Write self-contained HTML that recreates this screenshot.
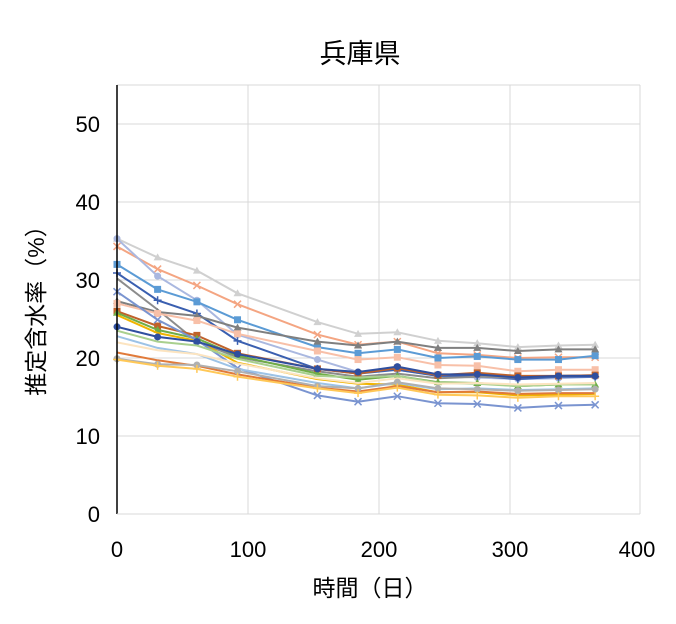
<!DOCTYPE html>
<html><head><meta charset="utf-8"><style>
html,body{margin:0;padding:0;background:#fff;width:676px;height:624px;overflow:hidden}
text{font-family:"Liberation Sans","Noto Sans CJK JP",sans-serif;fill:#000}
</style></head><body>
<svg id="s" width="676" height="624" xmlns="http://www.w3.org/2000/svg">
<rect width="676" height="624" fill="#fff"/>
<text x="360" y="63" font-size="27" text-anchor="middle">兵庫県</text>
<g stroke="#d9d9d9" stroke-width="1">
<line x1="117" y1="124" x2="640" y2="124"/><line x1="117" y1="202" x2="640" y2="202"/>
<line x1="117" y1="280" x2="640" y2="280"/><line x1="117" y1="358" x2="640" y2="358"/>
<line x1="117" y1="436" x2="640" y2="436"/>
<line x1="248" y1="85" x2="248" y2="514"/><line x1="379" y1="85" x2="379" y2="514"/>
<line x1="510" y1="85" x2="510" y2="514"/><line x1="640" y1="85" x2="640" y2="514"/>
<line x1="117" y1="85" x2="640" y2="85"/>
</g>
<g id="d"></g>
<line x1="117" y1="85" x2="117" y2="514" stroke="#000" stroke-width="1.5"/>
<line x1="117" y1="514" x2="640" y2="514" stroke="#d9d9d9"/>
<g font-size="22" text-anchor="end">
<text x="100" y="522">0</text><text x="100" y="444">10</text><text x="100" y="366">20</text>
<text x="100" y="288">30</text><text x="100" y="210">40</text><text x="100" y="132">50</text>
</g>
<g font-size="22" text-anchor="middle">
<text x="117" y="557">0</text><text x="248" y="557">100</text><text x="379" y="557">200</text>
<text x="510" y="557">300</text><text x="637" y="557">400</text>
<text x="370" y="596" font-size="23">時間（日）</text>
</g>
<text transform="translate(44,305) rotate(-90)" font-size="23" text-anchor="middle">推定含水率（%）</text>
</svg>
<script>
var days=[0,31,61,92,153,184,214,245,275,306,337,365];
var S=[
["#d0d0d0","t",[35.3,32.9,31.2,28.3,24.6,23.1,23.3,22.2,21.9,21.4,21.6,21.7]],
["#f4a582","x",[34.3,31.4,29.3,26.9,23.0,21.7,22.1,20.6,20.4,20.0,20.1,20.1]],
["#aab8e0","c",[35.3,30.5,27.4,23.0,19.8,18.2,18.5,17.7,17.5,17.3,17.4,17.6]],
["#5b9bd5","s",[32.0,28.8,27.2,24.9,21.4,20.6,21.1,20.0,20.2,19.8,19.8,20.3]],
["#3a5fb0","p",[30.9,27.4,25.7,22.2,18.6,18.0,18.5,17.7,17.7,17.3,17.6,17.6]],
["#8c8c8c","n",[30.2,26.2,22.1,20.1,18.3,17.6,18.0,17.4,17.6,17.5,17.7,17.8]],
["#7f7f7f","t",[27.3,25.9,25.4,23.9,22.1,21.6,22.1,21.3,21.3,20.9,21.1,21.1]],
["#f8c0a8","s",[27.0,25.7,24.8,23.1,20.9,19.8,20.1,19.1,19.0,18.3,18.5,18.5]],
["#c0622a","s",[26.0,24.1,22.9,20.6,18.6,18.0,18.7,17.8,18.1,17.7,17.7,17.8]],
["#70ad47","t",[25.8,23.6,22.5,20.3,18.0,17.2,17.7,16.9,16.8,16.4,16.6,16.6]],
["#f0b400","n",[25.5,23.2,22.2,19.4,17.3,16.7,16.6,15.6,15.6,15.2,15.3,15.4]],
["#7a94d0","x",[28.5,24.9,22.3,18.7,15.2,14.4,15.1,14.2,14.1,13.6,13.9,14.0]],
["#2f4f9f","c",[24.0,22.7,22.1,20.5,18.6,18.2,18.9,17.9,17.9,17.5,17.7,17.7]],
["#a9d08e","n",[23.5,22.1,21.6,19.9,17.7,17.5,17.7,16.8,16.7,16.4,16.6,16.6]],
["#9dc3e6","n",[22.8,21.3,20.5,18.6,16.8,16.1,16.8,16.0,16.1,15.9,16.0,16.1]],
["#fce4c0","n",[22.0,21.0,20.5,19.3,17.4,16.8,17.4,16.7,16.8,16.6,16.7,16.8]],
["#e07a3a","n",[20.7,19.7,19.0,17.9,16.2,15.7,16.4,15.6,15.7,15.4,15.5,15.5]],
["#b0b0b0","c",[19.9,19.2,19.1,18.3,16.4,16.1,16.9,16.1,16.0,15.8,15.9,16.0]],
["#ffc857","p",[19.8,19.0,18.6,17.6,16.1,15.5,16.2,15.3,15.2,14.9,15.1,15.1]]
];
var h="";
S.forEach(function(s){
 var pts=s[2].map(function(v,i){return [117+days[i]*1.31,514-v*7.8]});
 h+='<polyline fill="none" stroke="'+s[0]+'" stroke-width="2" points="'+pts.map(function(p){return p[0].toFixed(1)+","+p[1].toFixed(1)}).join(" ")+'"/>';
 pts.forEach(function(p){var x=p[0],y=p[1],c=s[0];
  if(s[1]=="s")h+='<rect x="'+(x-3.5)+'" y="'+(y-3.5)+'" width="7" height="7" fill="'+c+'"/>';
  else if(s[1]=="t")h+='<polygon points="'+x+','+(y-4)+' '+(x+4)+','+(y+3)+' '+(x-4)+','+(y+3)+'" fill="'+c+'"/>';
  else if(s[1]=="c")h+='<circle cx="'+x+'" cy="'+y+'" r="3.5" fill="'+c+'"/>';
  else if(s[1]=="x")h+='<path d="M'+(x-3.5)+' '+(y-3.5)+'L'+(x+3.5)+' '+(y+3.5)+'M'+(x+3.5)+' '+(y-3.5)+'L'+(x-3.5)+' '+(y+3.5)+'" stroke="'+c+'" stroke-width="1.5"/>';
  else if(s[1]=="p")h+='<path d="M'+(x-4)+' '+y+'H'+(x+4)+'M'+x+' '+(y-4)+'V'+(y+4)+'" stroke="'+c+'" stroke-width="1.5"/>';
 });
});
document.getElementById("d").innerHTML=h;
</script>
</body></html>
